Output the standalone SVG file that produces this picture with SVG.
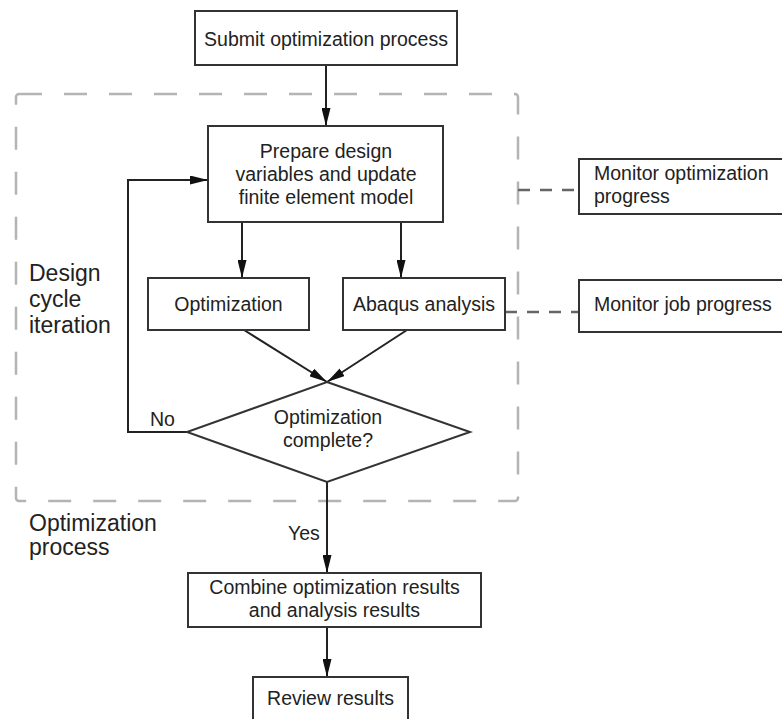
<svg xmlns="http://www.w3.org/2000/svg" width="782" height="719" viewBox="0 0 782 719">
<style>
.box{fill:#fff;stroke:#333;stroke-width:2}
.t{font-family:"Liberation Sans",Arial,sans-serif;font-size:19.5px;fill:#222;text-anchor:middle}
.tl{font-family:"Liberation Sans",Arial,sans-serif;font-size:19.5px;fill:#222}
.lbl{font-family:"Liberation Sans",Arial,sans-serif;font-size:23px;fill:#222}
.conn{fill:none;stroke:#222;stroke-width:2}
.mon{fill:none;stroke:#666;stroke-width:2.5;stroke-dasharray:12 10}
.region{fill:none;stroke:#b4b4b4;stroke-width:2.5;stroke-dasharray:23 22}
</style>
<defs>
<marker id="arr" markerUnits="userSpaceOnUse" markerWidth="18" markerHeight="9" refX="18" refY="4.5" orient="auto">
<path d="M0,0 L18,4.5 L0,9 z" fill="#111"/>
</marker>
</defs>
<rect width="782" height="719" fill="#fff"/>

<g id="region">
<rect class="region" x="16" y="94" width="502" height="407" rx="3"/>
<text class="lbl" x="29" y="281">Design</text>
<text class="lbl" x="29" y="307">cycle</text>
<text class="lbl" x="29" y="333">iteration</text>
<text class="lbl" x="29" y="531">Optimization</text>
<text class="lbl" x="29" y="555">process</text>
</g>

<g id="connectors">
<line class="conn" x1="326" y1="65" x2="326" y2="126" marker-end="url(#arr)"/>
<line class="conn" x1="242" y1="222" x2="242" y2="278" marker-end="url(#arr)"/>
<line class="conn" x1="401" y1="222" x2="401" y2="278" marker-end="url(#arr)"/>
<line class="conn" x1="244" y1="330" x2="327" y2="382" marker-end="url(#arr)"/>
<line class="conn" x1="407" y1="330" x2="327" y2="382" marker-end="url(#arr)"/>
<polyline class="conn" points="187,432 128,432 128,180 208,180" marker-end="url(#arr)"/>
<line class="conn" x1="327" y1="482" x2="327" y2="573" marker-end="url(#arr)"/>
<line class="conn" x1="327" y1="627" x2="327" y2="677" marker-end="url(#arr)"/>
<line class="mon" x1="518" y1="190" x2="579" y2="190"/>
<line class="mon" x1="505" y1="312" x2="579" y2="312"/>
<text class="tl" x="150" y="426">No</text>
<text class="tl" x="288" y="540">Yes</text>
</g>

<g id="submit">
<rect class="box" x="195" y="11" width="262" height="54"/>
<text class="t" x="326" y="46">Submit optimization process</text>
</g>

<g id="prepare">
<rect class="box" x="208" y="126" width="235" height="96"/>
<text class="t" x="326" y="158">Prepare design</text>
<text class="t" x="326" y="181">variables and update</text>
<text class="t" x="326" y="204">finite element model</text>
</g>

<g id="optimization">
<rect class="box" x="148" y="278" width="161" height="52"/>
<text class="t" x="228.5" y="311">Optimization</text>
</g>

<g id="abaqus">
<rect class="box" x="343" y="278" width="162" height="52"/>
<text class="t" x="424" y="311">Abaqus analysis</text>
</g>

<g id="monitor-opt">
<rect class="box" x="579" y="159" width="230" height="55"/>
<text class="tl" x="594" y="180">Monitor optimization</text>
<text class="tl" x="594" y="203">progress</text>
</g>

<g id="monitor-job">
<rect class="box" x="579" y="280" width="230" height="52"/>
<text class="tl" x="594" y="311">Monitor job progress</text>
</g>

<g id="decision">
<polygon class="box" points="327,382 470,432 327,482 187,432"/>
<text class="t" x="328" y="424">Optimization</text>
<text class="t" x="328" y="447">complete?</text>
</g>

<g id="combine">
<rect class="box" x="188" y="573" width="293" height="54"/>
<text class="t" x="334.5" y="594">Combine optimization results</text>
<text class="t" x="334.5" y="617">and analysis results</text>
</g>

<g id="review">
<rect class="box" x="253" y="677" width="155" height="60"/>
<text class="t" x="330.5" y="705">Review results</text>
</g>
</svg>
